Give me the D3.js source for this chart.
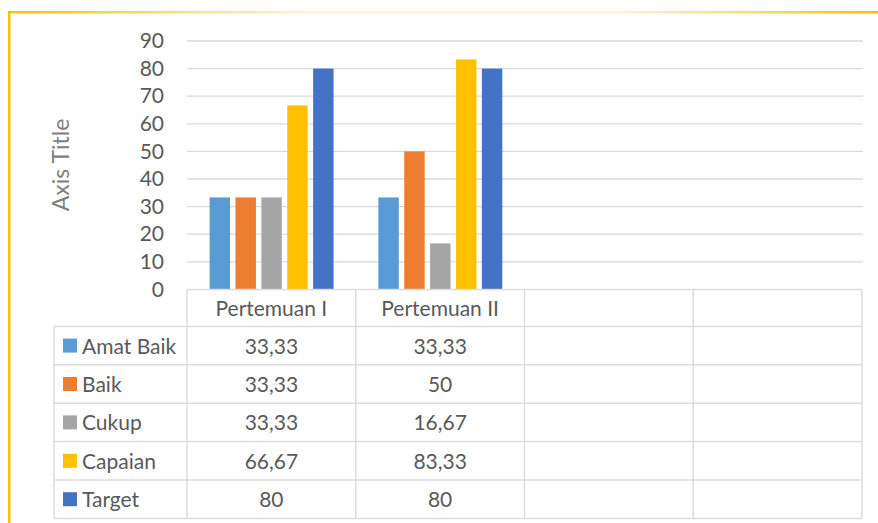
<!DOCTYPE html>
<html>
<head>
<meta charset="utf-8">
<script src="https://cdn.jsdelivr.net/npm/d3@7"></script>
<style>
  html, body { margin: 0; padding: 0; background: #fff; }
  svg { display: block; }
  text { font-family: Lato, "Open Sans", sans-serif; fill: #595959; }
</style>
</head>
<body>
<svg id="chart" width="878" height="523"></svg>
<script>
// ---- data ----
const categories = ["Pertemuan I", "Pertemuan II", "", ""];
const seriesNames = ["Amat Baik", "Baik", "Cukup", "Capaian", "Target"];
const amatBaik = [33.33, 33.33];
const baik = [33.33, 50];
const cukup = [33.33, 16.67];
const capaian = [66.67, 83.33];
const target = [80, 80];
const yTicks = [0, 10, 20, 30, 40, 50, 60, 70, 80, 90];
const axisTitle = "Axis Title";

const colors = ["#5B9BD5", "#ED7D31", "#A5A5A5", "#FFC000", "#4472C4"];
const seriesValues = [amatBaik, baik, cukup, capaian, target];

const svg = d3.select("#chart");

// frame
const defs = svg.append("defs");
const grad = defs.append("linearGradient").attr("id", "topGrad")
  .attr("x1", "0%").attr("x2", "100%").attr("y1", "0%").attr("y2", "0%");
grad.append("stop").attr("offset", "0%").attr("stop-color", "#FFC000");
grad.append("stop").attr("offset", "35%").attr("stop-color", "#FFF4D6");
grad.append("stop").attr("offset", "70%").attr("stop-color", "#FFF4D6");
grad.append("stop").attr("offset", "100%").attr("stop-color", "#FFC000");
svg.append("rect").attr("x", 8).attr("y", 11).attr("width", 870).attr("height", 2.5).attr("fill", "url(#topGrad)");
svg.append("rect").attr("x", 8).attr("y", 11).attr("width", 2.5).attr("height", 512).attr("fill", "#FFC000");

// scales
const plotLeft = 187, plotRight = 862;
const y = d3.scaleLinear().domain([0, 90]).range([289.4, 41]);
const x0 = d3.scaleBand().domain(d3.range(categories.length)).range([plotLeft, plotRight]).padding(0);
const bw0 = x0.bandwidth();
const x1 = d3.scaleBand().domain(d3.range(seriesNames.length))
  .range([bw0 * 0.134, bw0 * 0.8685]).paddingInner(0.21).paddingOuter(0);

// gridlines
svg.append("g").selectAll("line").data(yTicks.filter(t => t > 0)).join("line")
  .attr("x1", plotLeft).attr("x2", plotRight + 1)
  .attr("y1", d => y(d)).attr("y2", d => y(d))
  .attr("stroke", "#D9D9D9").attr("stroke-width", 1.3);

// y axis labels
const yAxis = d3.axisLeft(y).tickValues(yTicks).tickSize(0).tickPadding(0);
const gy = svg.append("g").attr("transform", "translate(164,0)").call(yAxis);
gy.select(".domain").remove();
gy.selectAll("text").attr("font-size", 21).attr("fill", "#595959")
  .style("font-family", "Lato, sans-serif");

// axis title
svg.append("text").attr("transform", "translate(69,165) rotate(-90)")
  .attr("text-anchor", "middle").attr("font-size", 23).style("fill", "#7F7F7F")
  .text(axisTitle);

// bars
seriesValues.forEach((vals, si) => {
  svg.append("g").selectAll("rect").data(vals).join("rect")
    .attr("x", (d, ci) => x0(ci) + x1(si))
    .attr("width", x1.bandwidth())
    .attr("y", d => y(d))
    .attr("height", d => y(0) - y(d))
    .attr("fill", colors[si]);
});

// data table
const rowTop = 289.4;
const headerH = 37;
const rowH = 38.4;
const tableLeft = 54;
const rowEdges = d3.range(seriesNames.length + 1).map(i => rowTop + headerH + i * rowH);
const tbl = svg.append("g").attr("stroke", "#DCDCDC").attr("stroke-width", 1.5);
// top line
tbl.append("line").attr("x1", plotLeft).attr("x2", plotRight).attr("y1", rowTop).attr("y2", rowTop);
rowEdges.forEach(ry => {
  tbl.append("line").attr("x1", tableLeft).attr("x2", plotRight).attr("y1", ry).attr("y2", ry);
});
// verticals
x0.domain().forEach(ci => {
  tbl.append("line").attr("x1", x0(ci)).attr("x2", x0(ci)).attr("y1", rowTop).attr("y2", rowEdges[rowEdges.length - 1]);
});
tbl.append("line").attr("x1", plotRight).attr("x2", plotRight).attr("y1", rowTop).attr("y2", rowEdges[rowEdges.length - 1]);
tbl.append("line").attr("x1", tableLeft).attr("x2", tableLeft).attr("y1", rowEdges[0]).attr("y2", rowEdges[rowEdges.length - 1]);

// header labels
svg.append("g").selectAll("text").data(categories).join("text")
  .attr("x", (d, i) => x0(i) + bw0 / 2)
  .attr("y", rowTop + headerH / 2 + 8)
  .attr("text-anchor", "middle").attr("font-size", 21)
  .text(d => d);

// rows
const fmt = v => String(v).replace(".", ",");
seriesNames.forEach((name, si) => {
  const cy = rowEdges[si] + rowH / 2;
  svg.append("rect").attr("x", 63).attr("y", cy - 7).attr("width", 14).attr("height", 14).attr("fill", colors[si]);
  svg.append("text").attr("x", 82).attr("y", cy + 8).attr("font-size", 21).text(name);
  svg.append("g").selectAll("text").data(seriesValues[si]).join("text")
    .attr("x", (d, ci) => x0(ci) + bw0 / 2)
    .attr("y", cy + 8)
    .attr("text-anchor", "middle").attr("font-size", 21)
    .text(d => fmt(d));
});
</script>
</body>
</html>
